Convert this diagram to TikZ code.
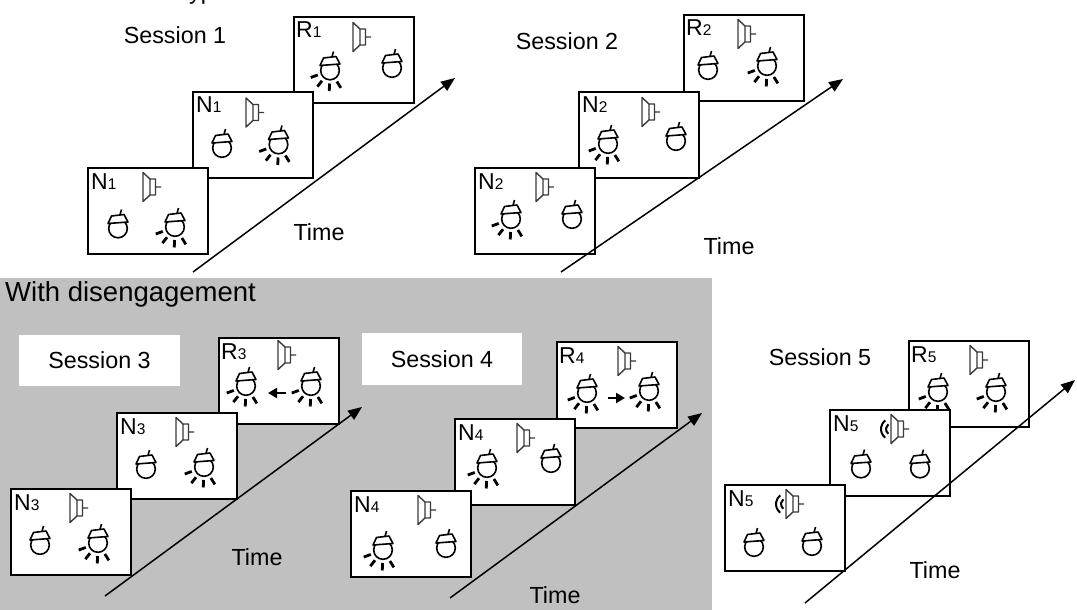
\documentclass[tikz,border=0pt]{standalone}
\usepackage{fontspec}
\setmainfont{Liberation Sans}
\usetikzlibrary{arrows.meta}
\definecolor{PanelGray}{HTML}{C0C0C0}
\definecolor{ConeGray}{HTML}{3A3A3A}

% trial label: letter with a small index on the baseline
\newcommand{\trial}[2]{#1{\fontsize{15.5}{16}\selectfont #2}}

\tikzset{
  card/.style={draw,fill=white,line width=2pt,minimum width=120pt,minimum height=86pt,inner sep=0pt,anchor=north west},
  tag/.style={font=\fontsize{23}{24}\selectfont,inner sep=0pt,anchor=base west},
  txt/.style={font=\fontsize{23.3}{24}\selectfont,inner sep=0pt},
  timeline/.style={line width=1.5pt,-{Triangle[length=14pt,width=11pt]}},
  move/.style={line width=2pt,-{Triangle[length=9pt,width=10pt]}},
  bulb/.pic={
    \draw[line width=1.6pt] (0,0) circle (9.3);
    \draw[line width=1.6pt,line join=round,fill=white] (-10,-5) -- (-6.5,-12.5) -- (6,-14) -- (10,-6.5) -- cycle;
    \draw[line width=1.6pt] (2,-13.6) -- (3.5,-19);
  },
  litbulb/.pic={
    \pic {bulb};
    \foreach \a in {160,128,92,58} \draw[line width=2.8pt] (\a:13) -- (\a:20.5);
  },
  speaker/.pic={
    \draw[ConeGray,line width=1.4pt,line join=round] (0,-14.5) -- (7,-8) -- (7,8) -- (0,14.5) -- cycle
      (7,-8) rectangle (12.5,8) (12.5,0) -- (18,0);
  },
  loudspeaker/.pic={
    \pic {speaker};
    \foreach \r in {6,11} \draw[line width=2pt] (1,0) ++(128:\r) arc (128:232:\r);
  }
}

\begin{document}
\begin{tikzpicture}[x=1pt,y=-1pt]
\useasboundingbox (0,0) rectangle (1077,610);

\node[txt,anchor=base west] (head) at (176,-0.5) {Typical};

% ---- session 1
\node[txt] (s1) at (175,35) {Session 1};
\begin{scope}[shift={(293,16)}]
  \node[card] (s1c) at (0,0) {};
  \node[tag] (s1cl) at (3,21.5) {\trial{R}{1}};
  \pic at (60,21) {speaker};
  \pic at (37,54.5) {litbulb};
  \pic at (99,52) {bulb};
\end{scope}
\begin{scope}[shift={(192,91)}]
  \node[card] (s1b) at (0,0) {};
  \node[tag] (s1bl) at (4,22) {\trial{N}{1}};
  \pic at (54,21.5) {speaker};
  \pic at (30,57) {bulb};
  \pic at (86.5,53.5) {litbulb};
\end{scope}
\begin{scope}[shift={(87,167)}]
  \node[card] (s1a) at (0,0) {};
  \node[tag] (s1al) at (4,22) {\trial{N}{1}};
  \pic at (56,20) {speaker};
  \pic at (31,61.5) {bulb};
  \pic at (88,60) {litbulb};
\end{scope}
\coordinate (s1t0) at (193,272);
\coordinate (s1t1) at (455,78);
\draw[timeline] (s1t0) -- (s1t1);
\node[txt] (s1time) at (319,232) {Time};

% ---- session 2
\node[txt] (s2) at (567,41) {Session 2};
\begin{scope}[shift={(683,14)}]
  \node[card] (s2c) at (0,0) {};
  \node[tag] (s2cl) at (3,22) {\trial{R}{2}};
  \pic at (55,20) {speaker};
  \pic at (25,56) {bulb};
  \pic at (84,52) {litbulb};
\end{scope}
\begin{scope}[shift={(578,91)}]
  \node[card] (s2b) at (0,0) {};
  \node[tag] (s2bl) at (4,22) {\trial{N}{2}};
  \pic at (64,21) {speaker};
  \pic at (30,53) {litbulb};
  \pic at (98,50) {bulb};
\end{scope}
\begin{scope}[shift={(474,167)}]
  \node[card] (s2a) at (0,0) {};
  \node[tag] (s2al) at (4,22) {\trial{N}{2}};
  \pic at (62,20) {speaker};
  \pic at (37,52) {litbulb};
  \pic at (98,52) {bulb};
\end{scope}
\coordinate (s2t0) at (561,272);
\coordinate (s2t1) at (843,79);
\draw[timeline] (s2t0) -- (s2t1);
\node[txt] (s2time) at (729,246) {Time};

% ---- grey panel
\fill[PanelGray] (0,278) rectangle (712,610);
\node[txt,font=\fontsize{27.5}{28}\selectfont,anchor=base west] (dis) at (5,301) {With disengagement};

% ---- session 3
\fill[white] (19,335) rectangle (180,386);
\node[txt] (s3) at (99.5,360.5) {Session 3};
\begin{scope}[shift={(218,337)}]
  \node[card] (s3c) at (0,0) {};
  \node[tag] (s3cl) at (3,22) {\trial{R}{3}};
  \pic at (60,18) {speaker};
  \pic at (28,49) {litbulb};
  \pic at (93,49) {litbulb};
  \coordinate (s3m0) at (68,56);
  \coordinate (s3m1) at (50,56);
  \draw[move] (s3m0) -- (s3m1);
\end{scope}
\begin{scope}[shift={(116,412)}]
  \node[card] (s3b) at (0,0) {};
  \node[tag] (s3bl) at (4,22) {\trial{N}{3}};
  \pic at (60,20) {speaker};
  \pic at (30,57) {bulb};
  \pic at (88,55) {litbulb};
\end{scope}
\begin{scope}[shift={(10,488)}]
  \node[card] (s3a) at (0,0) {};
  \node[tag] (s3al) at (4,22) {\trial{N}{3}};
  \pic at (60,20) {speaker};
  \pic at (30,57) {bulb};
  \pic at (88,55) {litbulb};
\end{scope}
\coordinate (s3t0) at (105,596);
\coordinate (s3t1) at (362,407);
\draw[timeline] (s3t0) -- (s3t1);
\node[txt] (s3time) at (257,557) {Time};

% ---- session 4
\fill[white] (362,333) rectangle (522,385);
\node[txt] (s4) at (442,359) {Session 4};
\begin{scope}[shift={(556,341)}]
  \node[card] (s4c) at (0,0) {};
  \node[tag] (s4cl) at (3,22) {\trial{R}{4}};
  \pic at (62,20) {speaker};
  \pic at (31,52) {litbulb};
  \pic at (93,50) {litbulb};
  \coordinate (s4m0) at (52,57);
  \coordinate (s4m1) at (69,57);
  \draw[move] (s4m0) -- (s4m1);
\end{scope}
\begin{scope}[shift={(454,418)}]
  \node[card] (s4b) at (0,0) {};
  \node[tag] (s4bl) at (4,22) {\trial{N}{4}};
  \pic at (63,20) {speaker};
  \pic at (33,50) {litbulb};
  \pic at (97,45) {bulb};
\end{scope}
\begin{scope}[shift={(350,490)}]
  \node[card] (s4a) at (0,0) {};
  \node[tag] (s4al) at (4,22) {\trial{N}{4}};
  \pic at (68,20) {speaker};
  \pic at (33,60) {litbulb};
  \pic at (96,58) {bulb};
\end{scope}
\coordinate (s4t0) at (450,598);
\coordinate (s4t1) at (702,413);
\draw[timeline] (s4t0) -- (s4t1);
\node[txt] (s4time) at (555,595) {Time};

% ---- session 5
\node[txt] (s5) at (820,357) {Session 5};
\begin{scope}[shift={(908,340)}]
  \node[card] (s5c) at (0,0) {};
  \node[tag] (s5cl) at (3,22) {\trial{R}{5}};
  \pic at (62,20) {speaker};
  \pic at (30,52) {litbulb};
  \pic at (88,52) {litbulb};
\end{scope}
\begin{scope}[shift={(829,409)}]
  \node[card] (s5b) at (0,0) {};
  \node[tag] (s5bl) at (4,22) {\trial{N}{5}};
  \pic at (62,20) {loudspeaker};
  \pic at (32,59.5) {bulb};
  \pic at (91,59.5) {bulb};
\end{scope}
\begin{scope}[shift={(724,484)}]
  \node[card] (s5a) at (0,0) {};
  \node[tag] (s5al) at (4,22) {\trial{N}{5}};
  \pic at (62,20) {loudspeaker};
  \pic at (30,63) {bulb};
  \pic at (88,62) {bulb};
\end{scope}
\coordinate (s5t0) at (805,603);
\coordinate (s5t1) at (1075,380);
\draw[timeline] (s5t0) -- (s5t1);
\node[txt] (s5time) at (935,570) {Time};
\end{tikzpicture}
\end{document}
